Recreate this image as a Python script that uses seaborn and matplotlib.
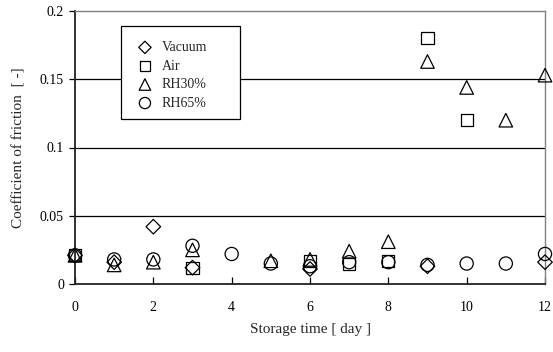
import matplotlib
matplotlib.use("Agg")
import matplotlib.pyplot as plt
import matplotlib.patches as mpatches
import seaborn as sns
import pandas as pd

vac_days = [0, 1, 2, 3, 6, 9, 12]
vac_vals = [0.021, 0.016, 0.042, 0.012, 0.011, 0.013, 0.016]
air_days = [0, 3, 6, 7, 8, 9, 10]
air_vals = [0.021, 0.012, 0.017, 0.015, 0.017, 0.180, 0.120]
rh30_days = [0, 1, 2, 3, 5, 6, 7, 8, 9, 10, 11, 12]
rh30_vals = [0.021, 0.014, 0.016, 0.025, 0.017, 0.018, 0.024, 0.031, 0.163, 0.144, 0.120, 0.153]
rh65_days = [0, 1, 2, 3, 4, 5, 6, 7, 8, 9, 10, 11, 12]
rh65_vals = [0.021, 0.018, 0.018, 0.028, 0.022, 0.015, 0.013, 0.016, 0.016, 0.014, 0.015, 0.015, 0.022]

series = [
    ("Vacuum", vac_days, vac_vals, "D", 55),
    ("Air", air_days, air_vals, "s", 75),
    ("RH30%", rh30_days, rh30_vals, "^", 95),
    ("RH65%", rh65_days, rh65_vals, "o", 90),
]

sns.set_style("white")
plt.rcParams["font.family"] = ["Liberation Serif", "DejaVu Serif"]

fig = plt.figure(figsize=(5.53, 3.52), dpi=100)
ax = fig.add_axes([75 / 553, 1 - 284 / 352, 470 / 553, 273 / 352])

for name, d, v, m, s in series:
    df = pd.DataFrame({"day": d, "cof": v})
    sns.scatterplot(data=df, x="day", y="cof", marker=m, s=s, ax=ax,
                    facecolors="none", edgecolor="black", linewidth=0.9,
                    label=name, clip_on=False, zorder=3)

ax.set_xlim(0, 12)
ax.set_ylim(0, 0.2)
ax.set_xticks([0, 2, 4, 6, 8, 10, 12])
ax.set_yticks([0, 0.05, 0.1, 0.15, 0.2])
ax.set_yticklabels(["0", "0.05", "0.1", "0.15", "0.2"])
for yv in [0.05, 0.1, 0.15]:
    ax.axhline(yv, color="black", lw=0.9, zorder=1)

ax.tick_params(axis="x", direction="in", length=5, width=0.9, pad=12, labelsize=10, colors="black", bottom=True)
ax.tick_params(axis="y", direction="out", length=4, width=0.9, pad=4, labelsize=10, colors="black", left=True)

for sp in ["left", "bottom"]:
    ax.spines[sp].set_color("#222222")
    ax.spines[sp].set_linewidth(1.3)
for sp in ["top", "right"]:
    ax.spines[sp].set_color("#808080")
    ax.spines[sp].set_linewidth(1.0)

ax.set_xlabel("Storage time [ day ]", fontsize=11, labelpad=7)
ax.set_ylabel("Coefficient of friction  [ -]", fontsize=11, labelpad=10)

# legend box
box = mpatches.Rectangle((0.0979, 0.6044), 0.253, 0.3407, transform=ax.transAxes,
                         facecolor="white", edgecolor="black", linewidth=0.9, zorder=4)
ax.add_patch(box)

leg = ax.legend(loc="upper left", bbox_to_anchor=(0.134, 0.890), frameon=False,
                fontsize=10, borderpad=0, handlelength=1.0,
                handletextpad=0.72, labelspacing=0.4, borderaxespad=0,
                markerscale=0.85)
leg.set_zorder(5)

fig.savefig("out.png", dpi=100)
